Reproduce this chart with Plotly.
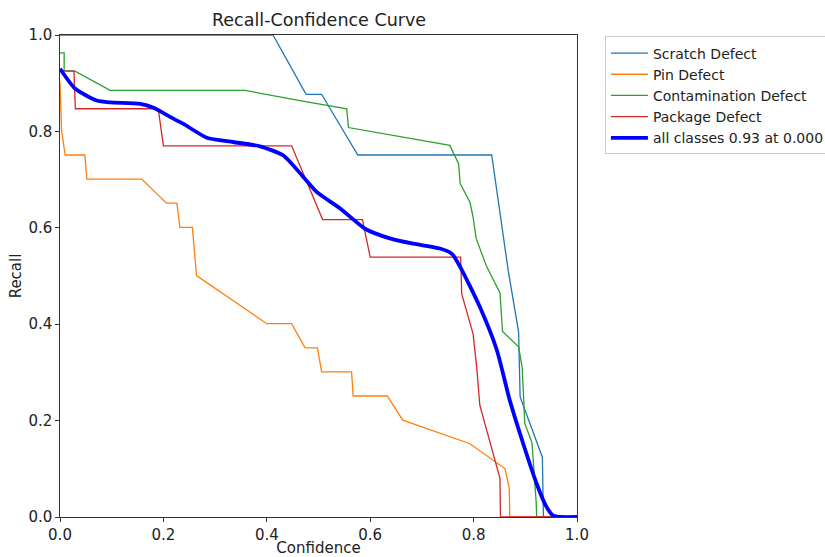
import plotly.graph_objects as go

# ---- data ----
scratch_x = [0.0, 0.412, 0.476, 0.506, 0.576, 0.835, 0.867, 0.887, 0.890, 0.933, 0.935, 1.0]
scratch_y = [1.0, 1.0, 0.877, 0.877, 0.751, 0.751, 0.511, 0.384, 0.249, 0.124, 0.0, 0.0]

pin_x = [0.0, 0.003, 0.010, 0.048, 0.052, 0.158, 0.206, 0.226, 0.232, 0.256, 0.264, 0.400, 0.448,
         0.474, 0.498, 0.506, 0.564, 0.567, 0.633, 0.663, 0.793, 0.861, 0.869, 0.870, 1.0]
pin_y = [0.902, 0.802, 0.751, 0.751, 0.701, 0.701, 0.651, 0.651, 0.601, 0.601, 0.501, 0.401, 0.401,
         0.351, 0.351, 0.301, 0.301, 0.251, 0.251, 0.201, 0.152, 0.100, 0.059, 0.0, 0.0]

contam_x = [0.0, 0.008, 0.008, 0.029, 0.097, 0.358, 0.464, 0.5545, 0.558, 0.754, 0.771, 0.774,
            0.793, 0.799, 0.805, 0.825, 0.851, 0.856, 0.887, 0.894, 0.899, 0.913, 0.921, 0.922, 1.0]
contam_y = [0.963, 0.963, 0.926, 0.925, 0.885, 0.885, 0.864, 0.847, 0.808, 0.771, 0.733, 0.692,
            0.653, 0.622, 0.578, 0.520, 0.465, 0.385, 0.353, 0.310, 0.194, 0.154, 0.031, 0.0, 0.0]

package_x = [0.0, 0.027, 0.0297, 0.190, 0.200, 0.448, 0.508, 0.585, 0.600, 0.775, 0.777, 0.799,
             0.806, 0.812, 0.851, 0.852, 1.0]
package_y = [0.925, 0.925, 0.847, 0.847, 0.770, 0.770, 0.617, 0.617, 0.539, 0.539, 0.463, 0.380,
             0.311, 0.232, 0.080, 0.0, 0.0]

all_x = [0.0, 0.029, 0.071, 0.097, 0.155, 0.181, 0.213, 0.238, 0.284, 0.335, 0.387, 0.432, 0.471,
         0.497, 0.542, 0.590, 0.638, 0.683, 0.735, 0.758, 0.774, 0.812, 0.845, 0.870, 0.896, 0.922,
         0.941, 0.954, 0.97, 1.0]
all_y = [0.930, 0.889, 0.864, 0.860, 0.857, 0.849, 0.830, 0.816, 0.787, 0.778, 0.769, 0.750, 0.705,
         0.674, 0.640, 0.598, 0.578, 0.567, 0.557, 0.546, 0.519, 0.436, 0.346, 0.242, 0.152, 0.069,
         0.021, 0.003, 0.0, 0.0]

names = ["Scratch Defect", "Pin Defect", "Contamination Defect", "Package Defect",
         "all classes 0.93 at 0.000"]
colors = ["#1f77b4", "#ff7f0e", "#2ca02c", "#d62728", "#0000ff"]
widths = [1.3, 1.3, 1.3, 1.3, 3.8]
shapes = ["linear", "linear", "linear", "linear", "spline"]
xs = [scratch_x, pin_x, contam_x, package_x, all_x]
ys = [scratch_y, pin_y, contam_y, package_y, all_y]

fig = go.Figure()
for i in range(5):
    fig.add_trace(go.Scatter(x=xs[i], y=ys[i], mode="lines", name=names[i],
                             line=dict(color=colors[i], width=widths[i], shape=shapes[i],
                                       smoothing=0.6)))

font = dict(family="DejaVu Sans", size=15, color="#222")
legend_font = dict(family="DejaVu Sans", size=14, color="#222")
axis_common = dict(range=[0, 1], showgrid=False, zeroline=False, showline=True,
                   linecolor="#333", linewidth=1.2, mirror=True, ticks="outside",
                   ticklen=3.5, tickcolor="#333", tickvals=[0, 0.2, 0.4, 0.6, 0.8, 1.0],
                   tickformat=".1f", tickfont=font)

fig.update_layout(
    width=825, height=557,
    margin=dict(l=60, r=248, t=35, b=40, autoexpand=False),
    paper_bgcolor="white", plot_bgcolor="white",
    font=font,
    title=dict(text="Recall-Confidence Curve", x=319 / 825, xanchor="center",
               y=1 - 20 / 557, yanchor="middle",
               font=dict(family="DejaVu Sans", size=17.5, color="#222")),
    xaxis=dict(title=dict(text="Confidence", standoff=3, font=font), **axis_common),
    yaxis=dict(title=dict(text="Recall", standoff=3, font=font), **axis_common),
    legend=dict(x=1.054, xanchor="left", y=0.997, yanchor="top",
                bordercolor="#cccccc", borderwidth=1, bgcolor="white",
                font=legend_font, itemwidth=37),
    showlegend=True,
)

fig.write_html("out.html")
